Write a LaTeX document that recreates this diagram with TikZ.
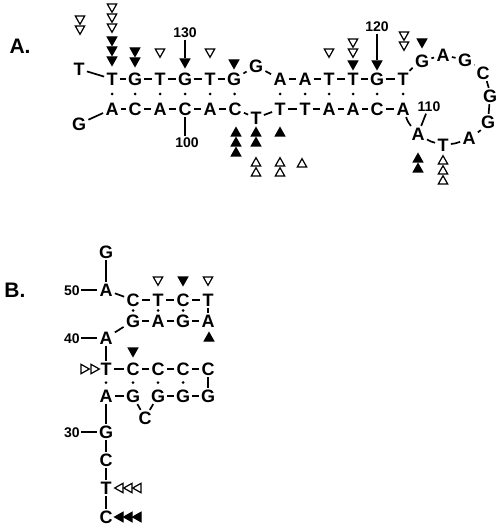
\documentclass[tikz,border=0pt]{standalone}
\usepackage{fontspec}
\setmainfont{Liberation Sans}
\usetikzlibrary{calc}
\begin{document}
\begin{tikzpicture}[x=1pt,y=-1pt,
  nt/.style={inner xsep=2.2pt, inner ysep=1.5pt, text height=12.8pt, text depth=0pt, font=\fontsize{18}{18}\selectfont\bfseries},
  num/.style={inner sep=1.5pt, text height=10pt, text depth=0pt, font=\fontsize{14}{14}\selectfont\bfseries},
  lab/.style={inner sep=0pt, font=\fontsize{21}{21}\selectfont\bfseries},
  ln/.style={line width=1.7pt},
  tri/.style={line width=1.2pt, line join=miter},
  tdo/.pic={\draw[tri] (-4.7,-4) -- (4.7,-4) -- (0,4.3) -- cycle;},
  tdf/.pic={\filldraw[tri] (-4.7,-4) -- (4.7,-4) -- (0,4.3) -- cycle;},
  tuo/.pic={\draw[tri] (-4.7,4) -- (4.7,4) -- (0,-4.3) -- cycle;},
  tuf/.pic={\filldraw[tri] (-4.7,4) -- (4.7,4) -- (0,-4.3) -- cycle;},
  tlo/.pic={\draw[tri] (4,-4.7) -- (4,4.7) -- (-4.3,0) -- cycle;},
  tlf/.pic={\filldraw[tri] (4,-4.7) -- (4,4.7) -- (-4.3,0) -- cycle;},
  tro/.pic={\draw[tri] (-4,-4.7) -- (-4,4.7) -- (4.3,0) -- cycle;},
  ]
\useasboundingbox (0,0) rectangle (498,529);
% ---------------- Part A ----------------
\node[lab] (labA) at (20,46) {A.};
\node[nt] (tL) at (79,69) {T};
\node[nt] (gL) at (79,124) {G};
\foreach \n/\x/\t in {1/112/T,2/135/G,3/160/T,4/185/G,5/210/T,6/234/G,7/280/A,8/305/A,9/329/T,10/353/T,11/377/G,12/403/T}
  \node[nt] (a\n) at (\x,79) {\t};
\foreach \n/\x/\t in {1/112/A,2/135/C,3/160/A,4/185/C,5/210/A,6/235/C,7/280/T,8/305/T,9/329/A,10/353/A,11/377/C,12/403/A}
  \node[nt] (c\n) at (\x,109) {\t};
\node[nt] (gLoop) at (256,66) {G};
\node[nt] (tLoop) at (256,118) {T};
\node[nt] (l1) at (422,61) {G};
\node[nt] (l2) at (443,55) {A};
\node[nt] (l3) at (465,60) {G};
\node[nt] (l4) at (483,73) {C};
\node[nt] (l5) at (490,96) {G};
\node[nt] (l6) at (488,122) {G};
\node[nt] (l7) at (469,138) {A};
\node[nt] (l8) at (443,145) {T};
\node[nt] (l9) at (418,134) {A};
\node[num] (n130) at (185,33) {130};
\node[num] (n100) at (187,143) {100};
\node[num] (n120) at (377,27) {120};
\node[num] (n110) at (429,107) {110};
\coordinate (p130) at (185,58);
\coordinate (p120) at (377,60);

\draw[ln] (tL) -- (a1);
\draw[ln] (gL) -- (c1);
\foreach \i/\j in {1/2,2/3,3/4,4/5,5/6,7/8,8/9,9/10,10/11,11/12} {
  \draw[ln] (a\i) -- (a\j);
  \draw[ln] (c\i) -- (c\j);
}
\draw[ln] (a6) -- (gLoop) -- (a7);
\draw[ln] (c6) -- (tLoop) -- (c7);
\draw[ln] (a12) to[bend left=8] (l1);
\draw[ln] (l1) -- (l2);
\draw[ln] (l2) -- (l3);
\draw[ln] (l3) to[bend left=8] (l4);
\draw[ln] (l4) to[bend left=8] (l5);
\draw[ln] (l5) -- (l6);
\draw[ln] (l6) to[bend left=8] (l7);
\draw[ln] (l7) to[bend left=8] (l8);
\draw[ln] (l8) to[bend left=8] (l9);
\draw[ln] (l9) to[bend left=10] (c12);
\foreach \i in {1,...,12}
  \fill ($(a\i)!0.5!(c\i)$) circle[radius=1.5];
\draw[ln] (n130) -- (p130);
\draw[ln] (n120) -- (p120);
\draw[ln] (c4.south) -- (c4.south |- n100.north);
\draw[ln] ([xshift=-3pt]n110.south) -- (l9);

\foreach \x/\y in {80/20,80/30,112/8,112/18,112/28,160/53,210/53,329/53,353/43,353/53,404/36,404/46}
  \pic at (\x,\y) {tdo};
\foreach \x/\y in {112/41,112/51,112/61,135/52,135/62,185/63,234/64,353/65,377/65,422/43}
  \pic at (\x,\y) {tdf};
\foreach \x/\y in {236/132,236/142,236/152,256/132,256/142,280/132,418/158,418/168}
  \pic at (\x,\y) {tuf};
\foreach \x/\y in {256/162,256/172,280/162,280/172,302/163,443/160,443/170,443/180}
  \pic at (\x,\y) {tuo};

% ---------------- Part B ----------------
\node[lab] (labB) at (15,290) {B.};
\node[nt] (bG) at (106,252) {G};
\node[nt] (bA50) at (106,290) {A};
\node[num] (n50) at (72,290) {50};
\foreach \n/\x/\t in {a/133/C,b/158/T,c/183/C,d/208/T}
  \node[nt] (r1\n) at (\x,300) {\t};
\foreach \n/\x/\t in {a/133/G,b/158/A,c/183/G,d/208/A}
  \node[nt] (r2\n) at (\x,321) {\t};
\node[nt] (bA40) at (106,338) {A};
\node[num] (n40) at (72,338) {40};
\foreach \n/\x/\t in {a/106/T,b/133/C,c/158/C,d/183/C,e/208/C}
  \node[nt] (r3\n) at (\x,369) {\t};
\foreach \n/\x/\t in {a/106/A,b/133/G,c/158/G,d/183/G,e/208/G}
  \node[nt] (r4\n) at (\x,396) {\t};
\node[nt] (bC) at (145,418) {C};
\node[nt] (bG30) at (106,432) {G};
\node[num] (n30) at (72,432) {30};
\node[nt] (bC2) at (106,460) {C};
\node[nt] (bT) at (106,488) {T};
\node[nt] (bC3) at (106,517) {C};

\draw[ln] (bG) -- (bA50);
\draw[ln] (n50) -- (bA50);
\draw[ln] (bA50) -- (r1a);
\draw[ln] (r1a) -- (r1b) -- (r1c) -- (r1d);
\draw[ln] (r1d) -- (r2d);
\draw[ln] (r2a) -- (r2b) -- (r2c) -- (r2d);
\draw[ln] (r2a) -- (bA40);
\draw[ln] (n40) -- (bA40);
\draw[ln] (bA40) -- (r3a);
\draw[ln] (r3a) -- (r3b) -- (r3c) -- (r3d) -- (r3e);
\draw[ln] (r3e) -- (r4e);
\draw[ln] (r4a) -- (r4b);
\draw[ln] (r4b) -- (bC) -- (r4c);
\draw[ln] (r4c) -- (r4d) -- (r4e);
\draw[ln] (r4a) -- (bG30);
\draw[ln] (n30) -- (bG30);
\draw[ln] (bG30) -- (bC2);
\draw[ln] (bC2) -- (bT);
\draw[ln] (bT) -- (bC3);
\foreach \n in {a,b,c}
  \fill ($(r1\n)!0.5!(r2\n)$) circle[radius=1.5];
\foreach \n in {a,b,c,d}
  \fill ($(r3\n)!0.5!(r4\n)$) circle[radius=1.5];

\foreach \x/\y in {158/281,208/281}
  \pic at (\x,\y) {tdo};
\foreach \x/\y in {183/281,133/352}
  \pic at (\x,\y) {tdf};
\pic at (209,337) {tuf};
\foreach \x in {85,95}
  \pic at (\x,369) {tro};
\foreach \x in {119,128,137}
  \pic at (\x,488) {tlo};
\foreach \x in {119,128,137}
  \pic at (\x,517) {tlf};
\end{tikzpicture}
\end{document}
